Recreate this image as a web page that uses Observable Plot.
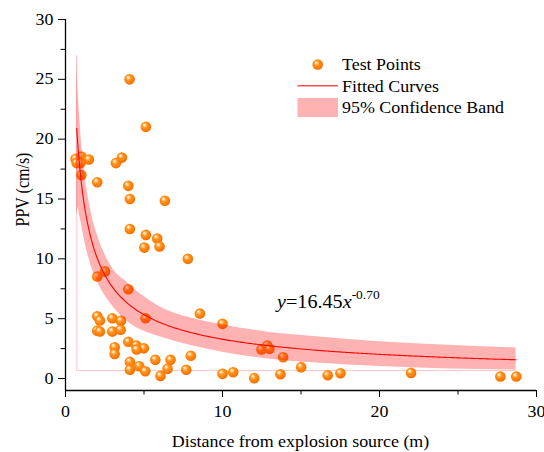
<!DOCTYPE html>
<html><head><meta charset="utf-8">
<script src="https://cdn.jsdelivr.net/npm/d3@7"></script>
<script src="https://cdn.jsdelivr.net/npm/@observablehq/plot@0.6"></script>
<style>body{margin:0;background:#fff;} svg{display:block;}</style>
</head><body><div id="chart"></div>
<script>
// ---- data ----
const pointX = [0.64, 1.01, 1.49, 0.71, 0.96, 1.01, 2.02, 3.21, 3.59, 4.0, 4.1, 6.33, 4.1, 5.12, 5.84, 5.02, 5.99, 7.79, 2.51, 4.08, 5.12,
  2.02, 4.0, 8.56, 5.1, 2.02, 2.19, 2.98, 3.53, 2.02, 2.19, 2.98, 3.51, 4.0, 4.51, 4.99, 4.53, 3.13, 3.13, 7.98, 5.72, 6.69, 4.1, 4.7,
  4.1, 5.08, 6.5, 7.69, 6.05, 10.0, 12.48, 12.85, 12.99, 13.86, 15.01, 10.0, 10.68, 12.02, 13.69, 16.7, 17.51, 22.01, 27.7, 28.71];
const pointY = [18.35, 18.55, 18.3, 18.0, 18.0, 17.0, 16.4, 18.0, 18.46, 16.1, 15.0, 14.85, 12.5, 12.0, 11.7, 10.94, 11.03, 10.0, 8.95, 25.0, 21.03,
  8.52, 7.46, 5.43, 5.04, 5.2, 4.85, 5.04, 4.82, 4.0, 3.93, 3.93, 4.07, 3.07, 2.76, 2.53, 2.42, 2.62, 2.06, 1.9, 1.56, 1.56, 1.39, 1.03,
  0.73, 0.61, 0.81, 0.73, 0.22, 4.57, 2.42, 2.76, 2.48, 1.78, 0.95, 0.39, 0.53, 0.03, 0.36, 0.28, 0.44, 0.47, 0.17, 0.17];
const fitA = 16.45, fitB = -0.70;   // y = 16.45 x^-0.70 (equation shown on the chart)
const bandX     = [0.71, 0.8, 0.9, 1.0, 1.2, 1.5, 2, 2.5, 3, 4, 5, 6, 8, 10, 13, 16, 20, 24, 28.7];
const bandUpper = [27.0, 24.0, 22.0, 20.0, 17.4, 14.8, 12.1, 10.4, 9.2, 7.95, 6.85, 6.0, 5.05, 4.5, 3.85, 3.5, 3.07, 2.8, 2.56];
const bandLower = [13.5, 14.3, 13.6, 13.0, 11.6, 10.0, 8.2, 6.95, 6.05, 4.7, 3.95, 3.5, 2.75, 2.2, 1.62, 1.3, 1.0, 0.82, 0.7];
const bandBase = 0.67;
const xTicks = [0, 10, 20, 30], xMinor = [5, 15, 25];
const yTicks = [0, 5, 10, 15, 20, 25, 30], yMinor = [2.5, 7.5, 12.5, 17.5, 22.5, 27.5];
const xLabel = "Distance from explosion source (m)";
const yLabel = "PPV (cm/s)";
const legendLabels = ["Test Points", "Fitted Curves", "95% Confidence Band"];
const eqText = {y: "y", eq: "=16.45", x: "x", exp: "-0.70"};

// ---- derived tables ----
const points = pointX.map((x, i) => ({x, y: pointY[i]}));
const band = bandX.map((x, i) => ({x, lo: bandLower[i], hi: bandUpper[i]}));
const curveXs = d3.range(0, 301).map(i => bandX[0] + (bandX[bandX.length - 1] - bandX[0]) * i / 300);
const curve = curveXs.map(x => ({x, y: fitA * Math.pow(x, fitB)}));

const SX = 1.12;
const FONT = "'Liberation Serif', 'Times New Roman', serif";

const plot = Plot.plot({
  width: 544, height: 452,
  marginLeft: 65, marginRight: 8, marginTop: 19, marginBottom: 62,
  style: {fontFamily: FONT, fontSize: "16px", color: "#000", background: "#fff"},
  x: {domain: [0, 30]},
  y: {domain: [-1, 30]},
  marks: [
    Plot.ruleX([bandX[0]], {y1: bandBase, y2: bandUpper[0], stroke: "#ffcaca", strokeWidth: 1}),
    Plot.ruleY([bandBase], {x1: bandX[0], x2: bandX[bandX.length - 1], stroke: "#ffcaca", strokeWidth: 1}),
    Plot.dot(points, {x: "x", y: "y", r: 5.3, fill: "url(#ball)", stroke: "none"}),
    Plot.areaY(band, {x: "x", y1: "lo", y2: "hi", fill: "#ff0000", fillOpacity: 0.3, curve: "monotone-x"}),
    Plot.line(curve, {x: "x", y: "y", stroke: "#ff0000", strokeWidth: 1.1}),
    Plot.axisX({ticks: xTicks, tickSize: 7, tickPadding: 8, label: null, tickFormat: d => String(d)}),
    Plot.axisX({ticks: xMinor, tickSize: 4.5, label: null, tickFormat: () => ""}),
    Plot.axisY({ticks: yTicks, tickSize: 7, tickPadding: 5, label: null, tickFormat: d => String(d)}),
    Plot.axisY({ticks: yMinor, tickSize: 4.5, label: null, tickFormat: () => ""}),
    Plot.ruleX([0], {stroke: "#000", strokeWidth: 1.3}),
    Plot.ruleY([-1], {stroke: "#000", strokeWidth: 1.3})
  ]
});

const svg = d3.select(plot);
// stretch tick labels horizontally like the reference
svg.selectAll("text").each(function() {
  const t = this.getAttribute("transform");
  if (t && t.startsWith("translate")) this.setAttribute("transform", t + ` scale(${SX},1)`);
});

const defs = svg.insert("defs", ":first-child");
const g = defs.append("radialGradient").attr("id", "ball").attr("cx", "0.45").attr("cy", "0.45").attr("r", "0.6").attr("fx", "0.35").attr("fy", "0.3");
[[0, "#fff8ee"], [0.16, "#ffd9a0"], [0.4, "#ff9420"], [0.8, "#ff7800"], [1, "#e46400"]].forEach(([o, c]) =>
  g.append("stop").attr("offset", o).attr("stop-color", c));

const sx = plot.scale("x"), sy = plot.scale("y");
const ann = svg.append("g").attr("font-family", FONT).attr("fill", "#000").attr("text-anchor", "start");

// axis labels
ann.append("text").attr("transform", `translate(${(sx.apply(0) + sx.apply(30)) / 2},447) scale(${SX},1)`)
  .attr("text-anchor", "middle").attr("font-size", 16).text(xLabel);
ann.append("text").attr("transform", `translate(29,${(sy.apply(-1) + sy.apply(30)) / 2 - 15}) scale(${SX},1) rotate(-90)`)
  .attr("text-anchor", "middle").attr("font-size", 16).text(yLabel);

// equation
const eq = ann.append("text").attr("transform", `translate(277,308) scale(${SX},1)`).attr("font-size", 18).attr("text-anchor", "start");
eq.append("tspan").attr("font-style", "italic").text(eqText.y);
eq.append("tspan").text(eqText.eq);
eq.append("tspan").attr("font-style", "italic").text(eqText.x);
eq.append("tspan").attr("font-size", 12).attr("dy", -9).text(eqText.exp);

// legend
const lg = ann.append("g");
lg.append("circle").attr("cx", 317.7).attr("cy", 64.5).attr("r", 5.3).attr("fill", "url(#ball)");
lg.append("line").attr("x1", 297.5).attr("x2", 338).attr("y1", 85.7).attr("y2", 85.7).attr("stroke", "#ff4d4d").attr("stroke-width", 1.5);
lg.append("rect").attr("x", 297.5).attr("y", 98).attr("width", 40.5).attr("height", 19).attr("fill", "#ff0000").attr("fill-opacity", 0.3);
[70, 91.5, 112.7].forEach((y, i) =>
  lg.append("text").attr("transform", `translate(342,${y}) scale(${SX},1)`).attr("text-anchor", "start").attr("font-size", 16).text(legendLabels[i]));

document.getElementById("chart").appendChild(plot);
</script>
</body></html>
